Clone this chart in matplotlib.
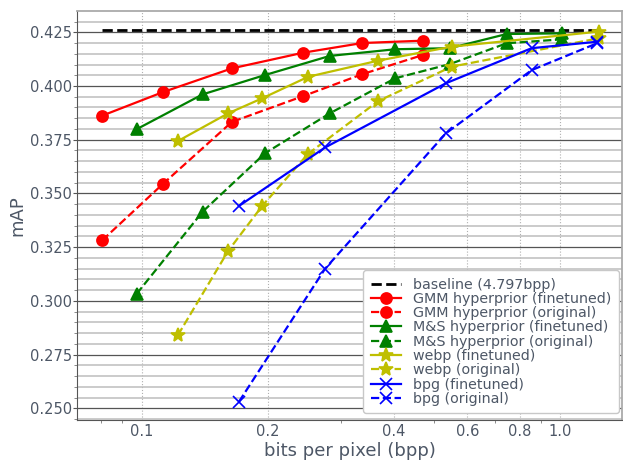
"""mAP vs bits-per-pixel for finetuned / original codecs (log-x)."""
import matplotlib
matplotlib.use("Agg")
import matplotlib.pyplot as plt
from matplotlib.ticker import FixedLocator, FixedFormatter, LogLocator, MultipleLocator, NullFormatter

TXT = "#4d5766"

baseline_map = 0.426
baseline_label = "baseline (4.797bpp)"

gmm_bpp = [0.0805, 0.1122, 0.1643, 0.2432, 0.3365, 0.4693]
gmm_ft = [0.3862, 0.3971, 0.4082, 0.4155, 0.4200, 0.4211]
gmm_orig = [0.3282, 0.3543, 0.3833, 0.3953, 0.4055, 0.4144]

ms_bpp = [0.0973, 0.1398, 0.1971, 0.2815, 0.4035, 0.545, 0.745, 1.008]
ms_ft = [0.3799, 0.3961, 0.4051, 0.4140, 0.4171, 0.4176, 0.4242, 0.4245]
ms_orig = [0.3033, 0.3415, 0.3687, 0.3873, 0.4036, 0.4102, 0.4199, 0.4217]

webp_bpp = [0.1221, 0.1610, 0.1942, 0.250, 0.3675, 0.5503, 1.235]
webp_ft = [0.3744, 0.3873, 0.3943, 0.4043, 0.4118, 0.4183, 0.4253]
webp_orig = [0.2841, 0.3233, 0.3443, 0.3685, 0.3930, 0.4090, 0.4222]

bpg_bpp = [0.1708, 0.2743, 0.5333, 0.8545, 1.225]
bpg_ft = [0.3442, 0.3714, 0.4013, 0.4176, 0.4206]
bpg_orig = [0.2531, 0.3150, 0.3780, 0.4074, 0.4199]

xticks = [0.1, 0.2, 0.4, 0.6, 0.8, 1.0]
xticklabels = ["0.1", "0.2", "0.4", "0.6", "0.8", "1.0"]

series = [
    ("GMM hyperprior", gmm_bpp, gmm_ft, gmm_orig, "r", "o", 8),
    ("M&S hyperprior", ms_bpp, ms_ft, ms_orig, "g", "^", 8),
    ("webp", webp_bpp, webp_ft, webp_orig, "y", "*", 10),
    ("bpg", bpg_bpp, bpg_ft, bpg_orig, "b", "x", 9),
]

fig = plt.figure(figsize=(6.23, 4.62), dpi=100)
ax = fig.add_axes([0.1241, 0.0909, 0.8738, 0.8853])

all_x = gmm_bpp + ms_bpp + webp_bpp + bpg_bpp
ax.plot([min(all_x), max(all_x)], [baseline_map, baseline_map], "--", color="k",
        lw=2, label=baseline_label, zorder=3)
for name, xs, ft, orig, col, mk, msz in series:
    ax.plot(xs, ft, "-", color=col, marker=mk, ms=msz, lw=1.6, mew=1.2,
            label=f"{name} (finetuned)", zorder=3)
    ax.plot(xs, orig, "--", color=col, marker=mk, ms=msz, lw=1.6, mew=1.2,
            label=f"{name} (original)", zorder=3)

ax.set_xscale("log")
ax.set_xlim(0.0702, 1.402)
ax.set_ylim(0.2446, 0.4349)
ax.xaxis.set_major_locator(FixedLocator(xticks))
ax.xaxis.set_major_formatter(FixedFormatter(xticklabels))
ax.xaxis.set_minor_locator(LogLocator(base=10, subs=range(2, 10)))
ax.xaxis.set_minor_formatter(NullFormatter())
ax.yaxis.set_major_locator(MultipleLocator(0.025))
ax.yaxis.set_minor_locator(MultipleLocator(0.005))

ax.grid(axis="y", which="major", color="#555555", lw=0.9, zorder=1)
ax.grid(axis="y", which="minor", color="#bdbdbd", lw=1.1, zorder=1)
ax.grid(axis="x", which="major", color="#b0b0b0", lw=0.8, ls=":", zorder=1)
ax.set_axisbelow(True)

ax.tick_params(axis="both", which="major", labelsize=10.5, colors="#555555",
               labelcolor=TXT, length=3, width=0.8, pad=1)
ax.tick_params(axis="x", which="major", length=0, pad=3)
ax.tick_params(axis="both", which="minor", colors="#777777", length=2, width=0.6)
for side in ("left", "bottom"):
    ax.spines[side].set_color("#555555")
for side in ("top", "right"):
    ax.spines[side].set_color("#aaaaaa")
    ax.spines[side].set_linewidth(1.3)

ax.set_xlabel("bits per pixel (bpp)", fontsize=13, color=TXT, labelpad=2)
ax.set_ylabel("mAP", fontsize=13, color=TXT, labelpad=2)

leg = ax.legend(loc="lower right", bbox_to_anchor=(0.995, 0.017), borderaxespad=0,
                fontsize=10.3, labelspacing=0.02, handlelength=2.1,
                handletextpad=0.9, borderpad=0.5,
                fancybox=True, framealpha=1.0, edgecolor="#c8c8c8")
for t in leg.get_texts():
    t.set_color(TXT)

fig.savefig("out.png", dpi=100)
